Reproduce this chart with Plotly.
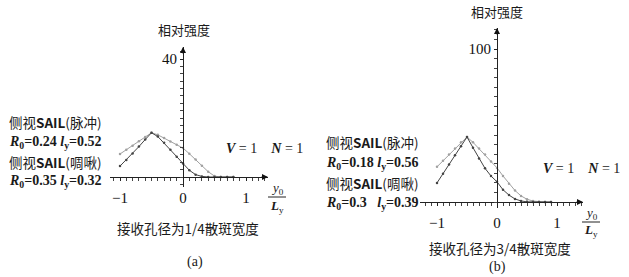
import plotly.graph_objects as go
import numpy as np

W, H = 629, 277

# ---- data ----
x_a = [-1.0, -0.9, -0.8, -0.7, -0.6, -0.5, -0.4, -0.3, -0.2, -0.1, 0.0, 0.1, 0.2, 0.3, 0.4, 0.5, 0.6, 0.7, 0.8]
pulse_a = [7.8, 9.2, 10.6, 12.1, 13.6, 15.0, 14.3, 13.2, 12.0, 10.9, 9.8, 7.9, 5.9, 3.8, 1.8, 0.3, 0.0, 0.0, 0.0]
chirp_a = [3.7, 5.8, 8.0, 10.3, 12.7, 15.0, 13.7, 11.6, 9.2, 6.9, 4.6, 2.3, 0.8, 0.2, 0.0, 0.0, 0.0, 0.0, 0.0]

x_b = [-1.0, -0.9, -0.8, -0.7, -0.6, -0.5, -0.4, -0.3, -0.2, -0.1, 0.0, 0.1, 0.2, 0.3, 0.4, 0.5, 0.6, 0.7, 0.8, 0.9]
pulse_b = [23.0, 27.0, 31.0, 35.0, 39.0, 42.5, 39.0, 35.0, 31.0, 26.5, 22.3, 17.0, 12.0, 7.5, 4.0, 1.8, 0.6, 0.1, 0.0, 0.0]
chirp_b = [12.5, 18.5, 24.5, 30.5, 36.5, 42.5, 35.5, 28.5, 22.0, 17.0, 13.2, 8.0, 4.5, 2.0, 0.7, 0.1, 0.0, 0.0, 0.0, 0.0]

x_ticks = [-1, 0, 1]
y_tick_a = [40]
y_tick_b = [100]

def PX(p):
    return p / W

def PY(p):
    return 1 - p / H

serif = "Liberation Serif, Noto Sans CJK SC"
cjk = "Noto Sans CJK SC, Liberation Serif"

fig = go.Figure()

light = "#a0a0a0"
dark = "#444444"
for xs, ys, col, xa, ya in [
    (x_a, pulse_a, light, "x", "y"),
    (x_a, chirp_a, dark, "x", "y"),
    (x_b, pulse_b, light, "x2", "y2"),
    (x_b, chirp_b, dark, "x2", "y2"),
]:
    fig.add_trace(go.Scatter(x=xs, y=ys, mode="lines+markers", xaxis=xa, yaxis=ya,
                             line=dict(color=col, width=1), marker=dict(color=col, size=2.5),
                             showlegend=False, hoverinfo="skip"))

# panel geometry in pixels
ax0, axs, ay0, ays = 183, 63.0, 177, 2.95
a_xl, a_xr, a_yb, a_yt = 110, 268, 187, 47
bx0, bxs, by0, bys = 497, 60.0, 202, 1.53
b_xl, b_xr, b_yb, b_yt = 420, 583, 208, 28

def xaxis_cfg(xl, xr, x0, xs, y0pix):
    return dict(domain=[PX(xl), PX(xr)], range=[(xl - x0) / xs, (xr - x0) / xs],
                anchor="free", position=PY(y0pix), showline=True, linecolor="#222", linewidth=1,
                showgrid=False, zeroline=False, tickvals=x_ticks, ticktext=["−1", "0", "1"],
                ticks="outside", ticklen=3, tickcolor="#222", ticklabelstandoff=4,
                minor=dict(dtick=0.1, tick0=0, ticks="outside", ticklen=3, tickcolor="#444", showgrid=False),
                tickfont=dict(family=serif, size=15, color="#111"), fixedrange=True)

def yaxis_cfg(yb, yt, y0, ys, x0pix, tv, mdt):
    return dict(domain=[PY(yb), PY(yt)], range=[(y0 - yb) / ys, (y0 - yt) / ys],
                anchor="free", position=PX(x0pix), showline=True, linecolor="#222", linewidth=1,
                showgrid=False, zeroline=False, tickvals=tv, ticks="outside", ticklen=3, tickcolor="#222",
                minor=dict(dtick=mdt, tick0=0, ticks="outside", ticklen=3, tickcolor="#444", showgrid=False),
                tickfont=dict(family=serif, size=15, color="#111"), fixedrange=True)

fig.update_layout(
    width=W, height=H, margin=dict(l=0, r=0, t=0, b=0),
    paper_bgcolor="white", plot_bgcolor="rgba(0,0,0,0)",
    xaxis=xaxis_cfg(a_xl, a_xr, ax0, axs, ay0),
    yaxis=yaxis_cfg(a_yb, a_yt, ay0, ays, ax0, y_tick_a, 2.5),
    xaxis2=xaxis_cfg(b_xl, b_xr, bx0, bxs, by0),
    yaxis2=yaxis_cfg(b_yb, b_yt, by0, bys, bx0, y_tick_b, 6.25),
)

ann = []

def txt(x, y, s, size=13, family=cjk, xanchor="left"):
    ann.append(dict(x=PX(x), y=PY(y), xref="paper", yref="paper", text=s, showarrow=False,
                    xanchor=xanchor, yanchor="middle", font=dict(family=family, size=size, color="#1a1a1a")))

# arrows
for xr_, yr_, xmax, ymax in [("x", "y", (a_xr - ax0) / axs, (ay0 - a_yt) / ays),
                             ("x2", "y2", (b_xr - bx0) / bxs, (by0 - b_yt) / bys)]:
    ann.append(dict(x=0, y=ymax, xref=xr_, yref=yr_, ax=0, ay=8, axref="pixel", ayref="pixel",
                    showarrow=True, arrowhead=2, arrowsize=1.2, arrowwidth=1, arrowcolor="#111", text=""))
    ann.append(dict(x=xmax, y=0, xref=xr_, yref=yr_, ax=-8, ay=0, axref="pixel", ayref="pixel",
                    showarrow=True, arrowhead=2, arrowsize=1.2, arrowwidth=1, arrowcolor="#111", text=""))

# axis titles
txt(184, 30, "相对强度", 13, xanchor="center")
txt(497, 12, "相对强度", 13, xanchor="center")

# legend texts (a)
txt(7, 122, "侧视<b>SAIL</b>(脉冲)", 13.5)
txt(7, 142, "<b><i>R</i><sub>0</sub>=0.24 <i>l</i><sub>y</sub>=0.52</b>", 14, family=serif)
txt(7, 162, "侧视<b>SAIL</b>(啁啾)", 13.5)
txt(7, 181, "<b><i>R</i><sub>0</sub>=0.35 <i>l</i><sub>y</sub>=0.32</b>", 14, family=serif)
# legend texts (b)
txt(324, 142, "侧视<b>SAIL</b>(脉冲)", 13.5)
txt(324, 163, "<b><i>R</i><sub>0</sub>=0.18 <i>l</i><sub>y</sub>=0.56</b>", 14, family=serif)
txt(324, 183, "侧视<b>SAIL</b>(啁啾)", 13.5)
txt(324, 203, "<b><i>R</i><sub>0</sub>=0.3   <i>l</i><sub>y</sub>=0.39</b>", 14, family=serif)

# V, N
txt(224, 148, "<b><i>V</i></b> = 1    <b><i>N</i></b> = 1", 14, family=serif)
txt(541, 168, "<b><i>V</i></b> = 1    <b><i>N</i></b> = 1", 14, family=serif)

# y0/Ly fractions
for cx, ytop, ybot, lx0, lx1, ly in [(277, 188, 206, 268, 286, 197), (591, 213, 230, 582, 600, 222)]:
    txt(cx, ytop, "<i>y</i><sub>0</sub>", 13, family=serif, xanchor="center")
    txt(cx, ybot, "<b><i>L</i></b><sub>y</sub>", 13, family=serif, xanchor="center")
    fig.add_shape(type="line", xref="paper", yref="paper", x0=PX(lx0), x1=PX(lx1), y0=PY(ly), y1=PY(ly),
                  line=dict(color="#222", width=1))

# bottom captions
txt(188, 228, "接收孔径为1/4散斑宽度", 13.5, xanchor="center")
txt(500, 248, "接收孔径为3/4散斑宽度", 13.5, xanchor="center")
txt(195, 262, "(a)", 14, family=serif, xanchor="center")
txt(497, 267, "(b)", 14, family=serif, xanchor="center")

fig.update_layout(annotations=ann)
fig.write_html("out.html")
